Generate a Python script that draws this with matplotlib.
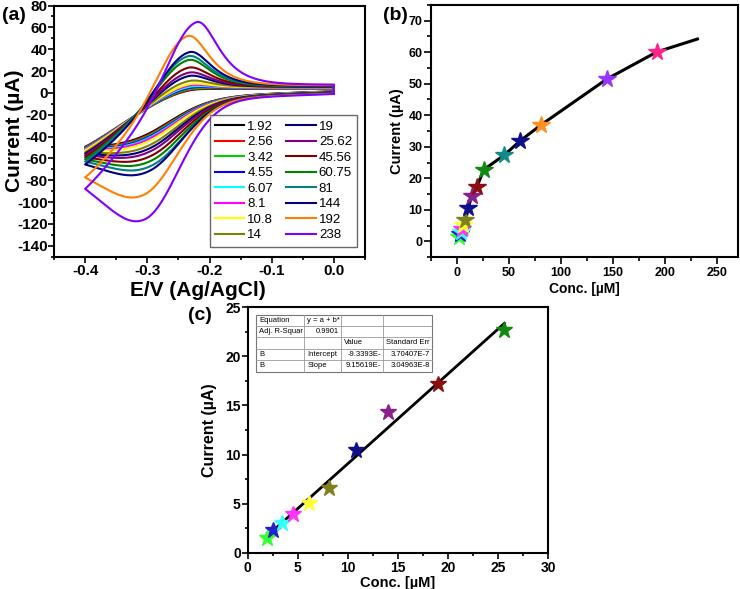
import numpy as np
import matplotlib
matplotlib.use('Agg')
import matplotlib.pyplot as plt
from matplotlib.ticker import MultipleLocator

plt.rcParams['font.family'] = ['Liberation Sans', 'DejaVu Sans']
plt.rcParams['font.weight'] = 'bold'
plt.rcParams['axes.linewidth'] = 1.5
plt.rcParams['axes.unicode_minus'] = False

# ---------------- (a) CV data ----------------
cv_labels = ['1.92', '2.56', '3.42', '4.55', '6.07', '8.1', '10.8', '14',
             '19', '25.62', '45.56', '60.75', '81', '144', '192', '238']
cv_colors = ['#000000', '#ff0000', '#00cc00', '#0000ff', '#00ffff', '#ff00ff',
             '#ffff00', '#808000', '#00007f', '#800080', '#800000', '#008000',
             '#008080', '#000080', '#ff8000', '#8000ff']
# oxidation peak current (uA) and potential (V)
cv_ox_peak = [2.0, 2.4, 3.2, 4.2, 5.2, 6.4, 7.6, 10.6, 15.2, 18.3, 22.9, 29.9,
              33.5, 37.2, 51.9, 64.7]
cv_ox_pot = [-0.235, -0.235, -0.235, -0.235, -0.235, -0.235, -0.235, -0.235,
             -0.235, -0.235, -0.235, -0.235, -0.235, -0.233, -0.236, -0.221]
# reduction current at reduction peak potential (uA, V)
cv_red_peak = [-35.0, -36.0, -37.0, -38.0, -39.0, -40.0, -42.0, -46.0, -49.0,
               -52.0, -56.5, -61.0, -65.7, -71.0, -93.2, -115.5]
cv_red_pot = [-0.29, -0.29, -0.29, -0.29, -0.29, -0.29, -0.29, -0.29, -0.29,
              -0.29, -0.29, -0.29, -0.29, -0.295, -0.305, -0.303]
# currents at the 0.0 V switching end (upper / lower branch)
cv_end_up = [4.0, 4.2, 4.4, 4.6, 4.8, 5.0, 5.2, 5.4, 5.6, 5.8, 6.0, 6.2, 6.4,
             6.6, 7.0, 7.5]
cv_end_low = [1.5, 1.4, 1.3, 1.2, 1.1, 1.0, 0.9, 0.8, 0.6, 0.5, 0.3, 0.1, 0.0,
              -0.2, -0.6, -1.0]

# ---------------- (b) calibration data ----------------
b_conc = [1.92, 2.56, 3.42, 4.55, 6.07, 8.1, 10.8, 14, 19, 25.62, 45.56,
          60.75, 81, 144, 192]
b_curr = [1.5, 2.28, 3.03, 3.98, 5.1, 6.6, 10.48, 14.35, 17.14, 22.69, 27.4,
          31.9, 37.0, 51.5, 60.1]
b_colors = ['#33ff33', '#2222cc', '#33ffff', '#ff33ff', '#ffff33', '#808020',
            '#10108a', '#8a208a', '#8a1010', '#108a10', '#108a8a', '#10108a',
            '#ff9020', '#9933ff', '#ff2288']
b_line_end_x = 231
b_line_end_y = 64.2

# ---------------- (c) linear range ----------------
c_conc = [1.92, 2.56, 3.42, 4.55, 6.07, 8.1, 10.8, 14, 19, 25.62]
c_curr = [1.5, 2.28, 3.03, 3.98, 5.1, 6.6, 10.48, 14.35, 17.14, 22.69]
c_colors = ['#33ff33', '#2222cc', '#33ffff', '#ff33ff', '#ffff33', '#808020',
            '#10108a', '#8a208a', '#8a1010', '#108a10']
table_rows = [["Equation", "y = a + b*", "", ""],
              ["Adj. R-Squar", "0.9901", "", ""],
              ["", "", "Value", "Standard Err"],
              ["B", "Intercept", "-9.3393E-", "3.70407E-7"],
              ["B", "Slope", "9.15619E-", "3.04963E-8"]]
table_align = [["left", "left", "left", "left"],
               ["left", "right", "left", "left"],
               ["left", "left", "left", "left"],
               ["left", "left", "right", "right"],
               ["left", "left", "right", "right"]]

W, H = 740, 589
fig = plt.figure(figsize=(W / 100, H / 100), dpi=100)


def ax_px(l, r, t, b):
    return fig.add_axes([l / W, (H - b) / H, (r - l) / W, (b - t) / H])


def style(ax, tsize, tlen, xpad, ypad):
    ax.tick_params(which='both', direction='out', top=False, right=False,
                   labelsize=tsize, width=1.2)
    ax.tick_params(which='major', length=tlen)
    ax.tick_params(which='minor', length=tlen * 0.6)
    ax.tick_params(axis='x', pad=xpad)
    ax.tick_params(axis='y', pad=ypad)
    for lab in ax.get_xticklabels() + ax.get_yticklabels():
        lab.set_fontweight('bold')


def wave(t, s_rise, s_fall):
    return np.where(t < 0, np.exp(-(t / s_rise) ** 2), 1.0 / np.cosh(t / s_fall))


def bg_low(E):
    return -42.0 / (1 + np.exp(-(-0.275 - E) / 0.035)) - 8.0 * (-E / 0.4)


def resid(E):
    d = E + 0.4
    return np.exp(-5.6 * d - 44.4 * d ** 2)


# ---------------- panel (a) ----------------
axa = ax_px(54, 365, 5.5, 256.7)
E_low = np.linspace(0.0, -0.4, 500)
E_up = np.linspace(-0.4, 0.0, 500)
handles = []
for i in range(len(cv_labels)):
    Il0, Iu0 = cv_end_low[i], cv_end_up[i]
    Epc, Epa = cv_red_pot[i], cv_ox_pot[i]
    Pc = cv_red_peak[i] - Il0 - bg_low(Epc)
    lower = Il0 + bg_low(E_low) + Pc * wave(Epc - E_low, 0.08, 0.071)
    vert = lower[-1]
    k = resid(Epa)
    w0 = wave(np.array(-0.4 - Epa), 0.063, 0.031)
    Pa = (cv_ox_peak[i] - Iu0 - (vert - Iu0) * k) / (1 - w0 * k)
    R0 = vert - Iu0 - Pa * w0
    upper = Iu0 + Pa * wave(E_up - Epa, 0.063, 0.031) + R0 * resid(E_up)
    x = np.concatenate([E_low, E_up, [E_low[0]]])
    y = np.concatenate([lower, upper, [lower[0]]])
    ln, = axa.plot(x, y, color=cv_colors[i], lw=1.5, label=cv_labels[i])
    handles.append(ln)

axa.set_xlim(-0.45, 0.05)
axa.set_ylim(-150, 80)
axa.xaxis.set_major_locator(MultipleLocator(0.1))
axa.xaxis.set_minor_locator(MultipleLocator(0.05))
axa.yaxis.set_major_locator(MultipleLocator(20))
axa.yaxis.set_minor_locator(MultipleLocator(10))
axa.set_xticks([-0.4, -0.3, -0.2, -0.1, 0.0])
axa.set_yticks(np.arange(-140, 81, 20))
style(axa, 11, 4, 1.5, 0.5)
axa.set_xlabel('E/V (Ag/AgCl)', fontsize=15, fontweight='bold')
axa.xaxis.set_label_coords((198 - 54) / 311, (256.7 - 281) / 251.2)
axa.set_ylabel('Current (\u00b5A)', fontsize=15, fontweight='bold')
axa.yaxis.set_label_coords((24 - 54) / 311, 0.5)
leg = axa.legend(handles=handles, ncol=2, loc='lower right',
                 bbox_to_anchor=(0.975, 0.04), borderaxespad=0,
                 prop={'size': 9.5, 'weight': 'normal'}, frameon=True,
                 fancybox=False, edgecolor='#444444', handlelength=2.2,
                 handletextpad=0.25, columnspacing=1.0, labelspacing=0.25,
                 borderpad=0.4)
leg.get_frame().set_linewidth(1.0)
fig.text(2 / W, 1 - 15 / H, '(a)', fontsize=14, fontweight='bold', va='center')

# ---------------- panel (b) ----------------
axb = ax_px(431, 738, 5, 257)
axb.plot(list(b_conc) + [b_line_end_x], list(b_curr) + [b_line_end_y],
         color='black', lw=2.2, zorder=2)
for xv, yv, c in zip(b_conc, b_curr, b_colors):
    axb.plot(xv, yv, marker='*', ms=13, color=c, mec=c, zorder=3)
axb.set_xlim(-25, 270)
axb.set_ylim(-5, 75)
axb.xaxis.set_major_locator(MultipleLocator(50))
axb.xaxis.set_minor_locator(MultipleLocator(25))
axb.yaxis.set_major_locator(MultipleLocator(10))
axb.yaxis.set_minor_locator(MultipleLocator(5))
axb.set_xticks([0, 50, 100, 150, 200, 250])
axb.set_yticks(np.arange(0, 71, 10))
style(axb, 9, 5, 2.5, 1)
axb.set_xlabel('Conc. [\u00b5M]', fontsize=10, fontweight='bold', labelpad=2)
axb.set_ylabel('Current (\u00b5A)', fontsize=10.5, fontweight='bold', labelpad=3)
fig.text(383 / W, 1 - 15 / H, '(b)', fontsize=14, fontweight='bold', va='center')

# ---------------- panel (c) ----------------
axc = ax_px(247.7, 548.3, 307.3, 552.7)
coef = np.polyfit(c_conc, c_curr, 1)
xl = np.array([min(c_conc), max(c_conc)])
axc.plot(xl, np.polyval(coef, xl), color='black', lw=2.0, zorder=2)
for xv, yv, c in zip(c_conc, c_curr, c_colors):
    axc.plot(xv, yv, marker='*', ms=12, color=c, mec=c, zorder=3)
axc.set_xlim(0, 30)
axc.set_ylim(0, 25)
axc.xaxis.set_major_locator(MultipleLocator(5))
axc.xaxis.set_minor_locator(MultipleLocator(2.5))
axc.yaxis.set_major_locator(MultipleLocator(5))
axc.yaxis.set_minor_locator(MultipleLocator(2.5))
style(axc, 10, 4, 2, 1)
axc.set_xlabel('Conc. [\u00b5M]', fontsize=10.5, fontweight='bold', labelpad=1)
axc.set_ylabel('Current (\u00b5A)', fontsize=11.5, fontweight='bold', labelpad=6)
fig.text(188 / W, 1 - 315 / H, '(c)', fontsize=14, fontweight='bold', va='center')

# fit table (layout in pixels of the figure)
col_px = [256, 304.3, 341, 382.7, 432.3]
row_px = [315, 326, 337.3, 348.7, 360, 371.7]


def cx(px):
    return (px - 247.7) / (548.3 - 247.7)


def cy(py):
    return (552.7 - py) / (552.7 - 307.3)


axc.add_patch(plt.Rectangle((cx(col_px[0]), cy(row_px[-1])),
                            cx(col_px[-1]) - cx(col_px[0]),
                            cy(row_px[0]) - cy(row_px[-1]),
                            transform=axc.transAxes, facecolor='white',
                            edgecolor='#777777', lw=0.8, zorder=4))
for xp in col_px[1:-1]:
    axc.plot([cx(xp), cx(xp)], [cy(row_px[0]), cy(row_px[-1])],
             transform=axc.transAxes, color='#999999', lw=0.6, zorder=5)
for yp in row_px[1:-1]:
    axc.plot([cx(col_px[0]), cx(col_px[-1])], [cy(yp), cy(yp)],
             transform=axc.transAxes, color='#999999', lw=0.6, zorder=5)
for r in range(5):
    for c in range(4):
        txt = table_rows[r][c]
        if not txt:
            continue
        ym = cy((row_px[r] + row_px[r + 1]) / 2)
        if table_align[r][c] == 'left':
            xp, ha = cx(col_px[c] + 3), 'left'
        else:
            xp, ha = cx(col_px[c + 1] - 2), 'right'
        axc.text(xp, ym, txt, transform=axc.transAxes, fontsize=5.5,
                 fontweight='normal', ha=ha, va='center', zorder=6)

fig.savefig('out.png', dpi=100)
